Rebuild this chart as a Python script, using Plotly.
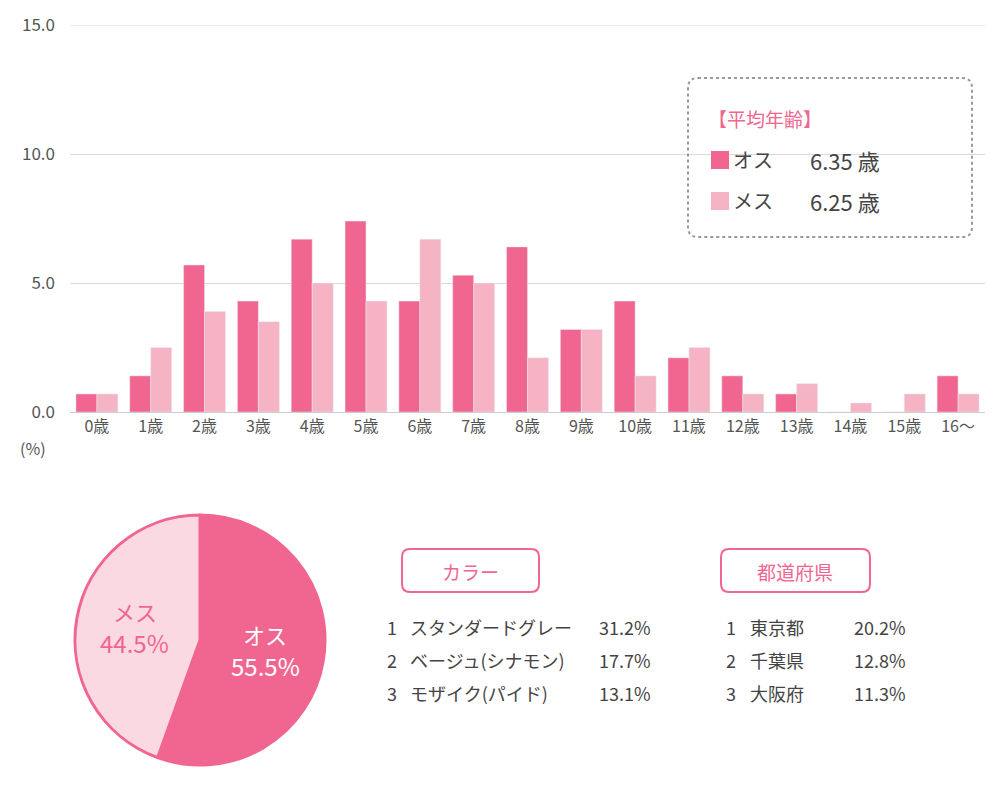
import plotly.graph_objects as go

ages = ["0歳","1歳","2歳","3歳","4歳","5歳","6歳","7歳","8歳","9歳","10歳","11歳","12歳","13歳","14歳","15歳","16～"]
male = [0.7,1.4,5.7,4.3,6.7,7.4,4.3,5.3,6.4,3.2,4.3,2.1,1.4,0.7,0,0,1.4]
female = [0.7,2.5,3.9,3.5,5.0,4.3,6.7,5.0,2.1,3.2,1.4,2.5,0.7,1.1,0.35,0.7,0.7]
pie_labels = ["オス","メス"]
pie_values = [55.5,44.5]
color_rank = [("1","スタンダードグレー","31.2%"),("2","ベージュ(シナモン)","17.7%"),("3","モザイク(パイド)","13.1%")]
pref_rank = [("1","東京都","20.2%"),("2","千葉県","12.8%"),("3","大阪府","11.3%")]

W, H = 995, 785
OFF = 8
def px(x): return (x - OFF) / W
def py(y): return 1 - (y - OFF) / H
DARK = "#f06690"; LIGHT = "#f5b3c3"; PALE = "#fbd9e2"
FONT = "Noto Sans CJK JP"

fig = go.Figure()
fig.add_bar(x=ages, y=male, marker_color=DARK, name="オス")
fig.add_bar(x=ages, y=female, marker_color=LIGHT, name="メス")
fig.add_pie(labels=pie_labels, values=pie_values, sort=False, direction="clockwise", rotation=0,
            marker=dict(colors=[DARK, PALE], line=dict(color=DARK, width=3)),
            textinfo="none", hoverinfo="label+percent", showlegend=False,
            domain=dict(x=[px(75), px(325)], y=[py(765), py(515)]))

fig.update_layout(
    width=W, height=H, margin=dict(l=0, r=0, t=0, b=0, autoexpand=False), paper_bgcolor="white", plot_bgcolor="white",
    font=dict(family=FONT, color="#555", size=16), showlegend=False,
    barmode="group", bargap=0.22, bargroupgap=0,
    xaxis=dict(domain=[px(70), px(985)], showline=True, linecolor="#ccc", ticks="", automargin=False,
               tickfont=dict(size=16, color="#555")),
    yaxis=dict(domain=[py(412), py(25)], range=[0, 15], tickvals=[0, 5, 10, 15], automargin=False,
               ticktext=["0.0", "5.0", "10.0", "15.0"], gridcolor="#d9d9d9", zeroline=False,
               tickfont=dict(size=17, color="#555"), ticklen=0, ticklabelstandoff=14),
)

def rrect(x0, y0, x1, y1, r):
    X0, X1 = px(x0), px(x1); Y0, Y1 = py(y0), py(y1)
    rx, ry = r / W, r / H
    return (f"M {X0+rx},{Y0} L {X1-rx},{Y0} Q {X1},{Y0} {X1},{Y0-ry} L {X1},{Y1+ry} Q {X1},{Y1} {X1-rx},{Y1} "
            f"L {X0+rx},{Y1} Q {X0},{Y1} {X0},{Y1+ry} L {X0},{Y0-ry} Q {X0},{Y0} {X0+rx},{Y0} Z")

shapes = [
    dict(type="line", xref="x domain", yref="y", x0=0, x1=1, y0=15, y1=15, line=dict(color="#d9d9d9", width=1)),
    dict(type="path", xref="paper", yref="paper", path=rrect(688, 78, 972, 237, 10),
         line=dict(color="#999", width=2, dash="dot")),
    dict(type="path", xref="paper", yref="paper", path=rrect(402, 549, 539, 592, 8),
         line=dict(color=DARK, width=2)),
    dict(type="path", xref="paper", yref="paper", path=rrect(721, 549, 870, 592, 8),
         line=dict(color=DARK, width=2)),
    dict(type="rect", xref="paper", yref="paper", x0=px(711), x1=px(729), y0=py(169), y1=py(151),
         fillcolor=DARK, line=dict(width=0)),
    dict(type="rect", xref="paper", yref="paper", x0=px(711), x1=px(729), y0=py(210), y1=py(192),
         fillcolor=LIGHT, line=dict(width=0)),
]
fig.update_layout(shapes=shapes)

def ann(x, y, text, size=18, color="#444", xanchor="left"):
    fig.add_annotation(xref="paper", yref="paper", x=px(x), y=py(y), text=text, showarrow=False,
                       xanchor=xanchor, yanchor="middle", font=dict(size=size, color=color, family=FONT))

ann(18, 448, "(%)", 16, "#555")
ann(706, 119, "【平均年齢】", 19, DARK)
ann(731, 160, "オス", 20)
ann(808, 160, "6.35 歳", 22)
ann(731, 201, "メス", 20)
ann(808, 201, "6.25 歳", 22)
ann(470, 571, "カラー", 19, DARK, "center")
ann(795, 571, "都道府県", 19, DARK, "center")
for i, (n, name, v) in enumerate(color_rank):
    y = 627 + i * 33
    ann(385, y, n, 18); ann(408, y, name, 18); ann(653, y, v, 18, "#444", "right")
for i, (n, name, v) in enumerate(pref_rank):
    y = 627 + i * 33
    ann(724, y, n, 18); ann(748, y, name, 18); ann(908, y, v, 18, "#444", "right")
ann(265, 634, "オス", 22, "white", "center")
ann(265, 665, "55.5%", 24, "white", "center")
ann(135, 611, "メス", 22, DARK, "center")
ann(135, 642, "44.5%", 24, DARK, "center")

fig.write_html("out.html")
